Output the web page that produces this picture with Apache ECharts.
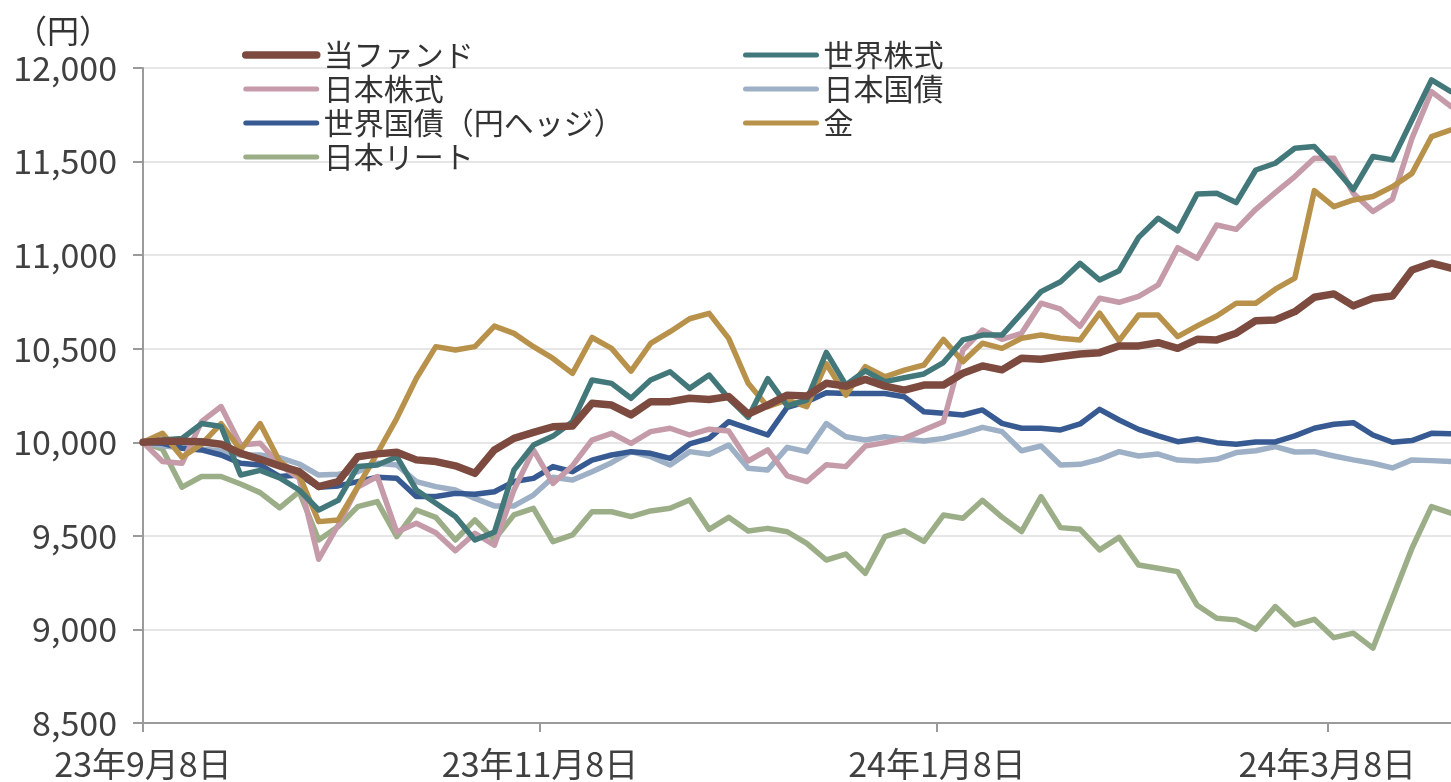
<!DOCTYPE html>
<html>
<head>
<meta charset="utf-8">
<script src="https://cdn.jsdelivr.net/npm/echarts@6/dist/echarts.min.js"></script>
<style>
  html, body { margin: 0; padding: 0; background: #fff; }
  #chart { width: 1451px; height: 782px; }
</style>
</head>
<body>
<div id="chart"></div>
<script>
// sampled dates (every 3 days)
const dates = [
  '2023-09-08','2023-09-11','2023-09-14','2023-09-17','2023-09-20','2023-09-23','2023-09-26','2023-09-29','2023-10-02','2023-10-05',
  '2023-10-08','2023-10-11','2023-10-14','2023-10-17','2023-10-20','2023-10-23','2023-10-26','2023-10-29','2023-11-01','2023-11-04',
  '2023-11-07','2023-11-10','2023-11-13','2023-11-16','2023-11-19','2023-11-22','2023-11-25','2023-11-28','2023-12-01','2023-12-04',
  '2023-12-07','2023-12-10','2023-12-13','2023-12-16','2023-12-19','2023-12-22','2023-12-25','2023-12-28','2023-12-31','2024-01-03',
  '2024-01-06','2024-01-09','2024-01-12','2024-01-15','2024-01-18','2024-01-21','2024-01-24','2024-01-27','2024-01-30','2024-02-02',
  '2024-02-05','2024-02-08','2024-02-11','2024-02-14','2024-02-17','2024-02-20','2024-02-23','2024-02-26','2024-02-29','2024-03-03',
  '2024-03-06','2024-03-09','2024-03-12','2024-03-15','2024-03-18','2024-03-21','2024-03-24','2024-03-27'
]

const fund = [
  10000,10005,10005,10003,9990,9941,9909,9874,9843,9763,
  9790,9923,9938,9947,9906,9897,9874,9834,9959,10021,
  10053,10083,10087,10208,10199,10146,10217,10217,10235,10229,
  10244,10151,10199,10252,10247,10315,10300,10336,10300,10279,
  10306,10306,10369,10408,10387,10449,10444,10458,10472,10479,
  10515,10515,10532,10502,10550,10547,10583,10650,10654,10698,
  10775,10793,10729,10770,10782,10921,10957,10930
]
const worldEquity = [
  10000,10012,10020,10100,10084,9825,9850,9810,9745,9638,
  9690,9870,9879,9923,9745,9674,9603,9478,9520,9852,
  9985,10033,10110,10333,10315,10235,10333,10377,10288,10359,
  10235,10133,10340,10195,10226,10480,10306,10382,10324,10345,
  10365,10426,10547,10573,10573,10689,10805,10858,10956,10867,
  10917,11095,11197,11130,11327,11331,11281,11455,11491,11571,
  11580,11470,11350,11527,11509,11722,11936,11874
]
const japanEquity = [
  10000,9897,9888,10110,10191,9986,9995,9879,9808,9375,
  9558,9760,9817,9520,9567,9517,9420,9514,9450,9745,
  9959,9780,9875,10012,10048,9994,10057,10075,10039,10070,
  10060,9900,9960,9820,9790,9880,9870,9980,9998,10021,
  10066,10110,10493,10600,10550,10582,10743,10711,10620,10770,
  10748,10780,10841,11040,10983,11161,11138,11245,11334,11420,
  11518,11518,11330,11233,11299,11624,11874,11794
]
const japanBond = [
  10000,9980,9972,9964,9954,9932,9932,9918,9884,9825,
  9829,9843,9888,9879,9790,9763,9745,9700,9660,9660,
  9718,9813,9798,9843,9891,9950,9923,9879,9950,9936,
  9985,9861,9852,9973,9950,10100,10030,10012,10030,10017,
  10007,10021,10048,10080,10057,9955,9980,9879,9882,9909,
  9950,9927,9937,9905,9900,9909,9945,9955,9977,9948,
  9950,9927,9906,9888,9863,9906,9902,9897
]
const worldBond = [
  10000,9995,9968,9959,9932,9888,9879,9817,9825,9760,
  9767,9790,9813,9808,9710,9710,9727,9722,9736,9790,
  9807,9870,9843,9905,9932,9950,9941,9914,9991,10021,
  10110,10074,10039,10187,10217,10265,10261,10261,10261,10243,
  10163,10155,10146,10173,10101,10075,10075,10066,10098,10176,
  10119,10069,10034,10003,10018,9998,9989,10002,10002,10034,
  10075,10096,10105,10039,10000,10009,10048,10045
]
const gold = [
  10000,10048,9920,9990,10100,9960,10100,9897,9825,9576,
  9585,9763,9941,10128,10341,10511,10493,10511,10621,10582,
  10511,10448,10368,10560,10502,10380,10528,10591,10660,10689,
  10555,10315,10190,10226,10190,10420,10252,10404,10350,10386,
  10413,10550,10431,10529,10502,10556,10573,10556,10547,10690,
  10543,10680,10680,10565,10622,10675,10743,10743,10818,10877,
  11345,11259,11295,11313,11366,11437,11633,11669
]
const jReit = [
  10000,9963,9760,9817,9817,9777,9731,9650,9736,9478,
  9550,9656,9683,9496,9638,9599,9478,9585,9480,9612,
  9647,9469,9505,9629,9629,9603,9633,9647,9692,9535,
  9599,9526,9540,9522,9460,9371,9403,9300,9496,9528,
  9470,9611,9594,9690,9600,9523,9710,9544,9535,9425,
  9492,9344,9327,9309,9129,9060,9051,9001,9122,9024,
  9054,8956,8980,8900,9167,9434,9656,9621
]

const tickDates = ['2023-09-08', '2023-11-08', '2024-01-08', '2024-03-08']
const tickLabels = ['23年9月8日', '23年11月8日', '24年1月8日', '24年3月8日']

// every calendar day from start to end as the category axis
const days = []
for (let t = Date.UTC(2023, 8, 8); t <= Date.UTC(2024, 2, 27); t += 86400000) {
  days.push(new Date(t).toISOString().slice(0, 10))
}

const font = '"Noto Sans CJK JP", "Noto Sans", sans-serif'
const pair = arr => dates.map((d, i) => [d, arr[i]])
const isTick = (idx, val) => tickDates.indexOf(val) >= 0

function line(name, arr, color, width) {
  return {
    name: name,
    type: 'line',
    data: pair(arr),
    symbol: 'none',
    lineStyle: { color: color, width: width, join: 'round', cap: 'round' },
    itemStyle: { color: color },
  }
}

function legend(left, items) {
  return {
    orient: 'vertical',
    left: left,
    top: 33,
    itemWidth: 71,
    itemHeight: 12,
    itemGap: 0,
    itemStyle: { opacity: 0 },
    lineStyle: { cap: 'round', width: 5 },
    textStyle: { fontFamily: font, fontSize: 30, color: '#333', lineHeight: 34, padding: [0, 0, 0, 2] },
    data: items,
  }
}

const myChart = echarts.init(document.getElementById('chart'))
const option = {
  animation: false,
  title: {
    text: '（円）',
    left: 10,
    top: 10,
    textStyle: { fontFamily: font, fontSize: 32, fontWeight: 'normal', color: '#333' },
  },
  legend: [
    legend(237, [
      { name: '当ファンド', lineStyle: { width: 7.5, cap: 'round' } },
      '日本株式', '世界国債（円ヘッジ）', '日本リート',
    ]),
    legend(738, ['世界株式', '日本国債', '金']),
  ],
  grid: { left: 143, right: 0, top: 68, bottom: 59 },
  xAxis: {
    type: 'category',
    data: days,
    boundaryGap: false,
    axisLine: { lineStyle: { color: '#9a9a9a', width: 2 } },
    axisTick: { interval: isTick, length: 9, lineStyle: { color: '#9a9a9a', width: 2 } },
    axisLabel: {
      interval: isTick,
      margin: 24,
      fontFamily: font,
      fontSize: 34,
      color: '#404040',
      formatter: v => tickLabels[tickDates.indexOf(v)],
    },
    splitLine: { show: false },
  },
  yAxis: {
    type: 'value',
    min: 8500,
    max: 12000,
    interval: 500,
    axisLine: { show: true, lineStyle: { color: '#9a9a9a', width: 2 } },
    axisTick: { show: true, length: 10, lineStyle: { color: '#9a9a9a', width: 2 } },
    axisLabel: {
      margin: 26,
      fontFamily: font,
      fontSize: 34,
      color: '#404040',
      formatter: v => v.toLocaleString('en-US'),
    },
    splitLine: { lineStyle: { color: '#e6e6e6', width: 2 } },
  },
  series: [
    line('日本リート', jReit, '#9bae88', 5.5),
    line('日本国債', japanBond, '#9db0c6', 5.5),
    line('世界国債（円ヘッジ）', worldBond, '#365a91', 5.5),
    line('日本株式', japanEquity, '#c59ba9', 5.5),
    line('金', gold, '#b8914b', 5.5),
    line('世界株式', worldEquity, '#42787a', 5.5),
    line('当ファンド', fund, '#7d4a3f', 7.5),
  ],
}
myChart.setOption(option)
</script>
</body>
</html>
